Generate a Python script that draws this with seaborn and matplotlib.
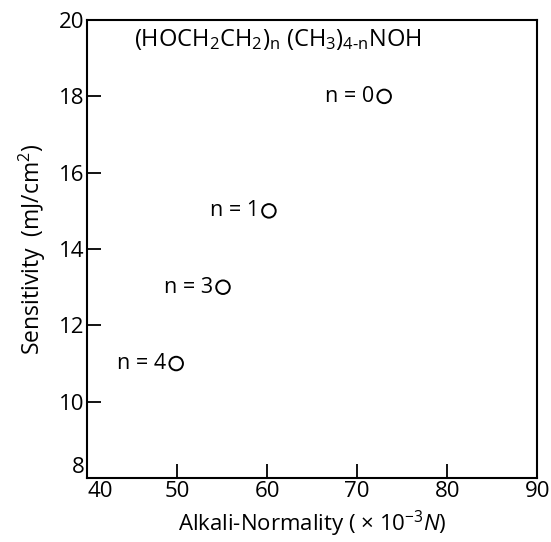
import matplotlib
matplotlib.use("Agg")
import matplotlib.pyplot as plt
import seaborn as sns
import pandas as pd

# Data
labels = ["n = 0", "n = 1", "n = 3", "n = 4"]
normality = [73.0, 60.2, 55.1, 49.9]
sensitivity = [18.0, 15.0, 13.0, 11.0]
x_ticks = [40, 50, 60, 70, 80, 90]
y_ticks = [8, 10, 12, 14, 16, 18, 20]

df = pd.DataFrame({"label": labels, "x": normality, "y": sensitivity})

sns.set_style("ticks")
plt.rcParams["font.family"] = ["Open Sans", "DejaVu Sans"]
plt.rcParams["mathtext.fontset"] = "custom"
plt.rcParams["mathtext.rm"] = "Open Sans"
plt.rcParams["mathtext.it"] = "Open Sans:italic"
plt.rcParams["mathtext.default"] = "regular"
plt.rcParams["text.color"] = "black"
plt.rcParams["axes.labelcolor"] = "black"

fig = plt.figure(figsize=(5.51, 5.42), dpi=100)
ax = fig.add_axes([0.158, 0.118, 0.817, 0.845])

sns.scatterplot(data=df, x="x", y="y", ax=ax, marker="o", s=95,
                color="black", linewidth=1.4, zorder=3)
coll = ax.collections[0]
coll.set_facecolor("none")
coll.set_edgecolor("black")

for lab, xv, yv in zip(labels, normality, sensitivity):
    ax.annotate(lab, (xv, yv), xytext=(-7, 0), textcoords="offset points",
                ha="right", va="center", fontsize=15.5, color="black")

ax.text(0.105, 0.985, "(HOCH$_2$CH$_2$)$_n$ (CH$_3$)$_{4\u2010n}$NOH",
        transform=ax.transAxes, ha="left", va="top", fontsize=17)

ax.set_xlim(40, 90)
ax.set_ylim(8, 20)
ax.set_xticks(x_ticks)
ax.set_yticks(y_ticks)
ax.tick_params(direction="in", length=10, width=1.3, labelsize=16,
               colors="black", pad=2)
for s in ax.spines.values():
    s.set_linewidth(1.5)
    s.set_color("black")

fig.canvas.draw()
ax.get_xticklabels()[0].set_horizontalalignment("left")
ax.get_yticklabels()[0].set_verticalalignment("bottom")

ax.set_xlabel("Alkali-Normality ( $\\times$ 10$^{-3}$$\\mathit{N}$)", fontsize=16, labelpad=5)
ax.set_ylabel("Sensitivity  (mJ/cm$^2$)", fontsize=16.5, labelpad=8)

fig.savefig("out.png", dpi=100)
